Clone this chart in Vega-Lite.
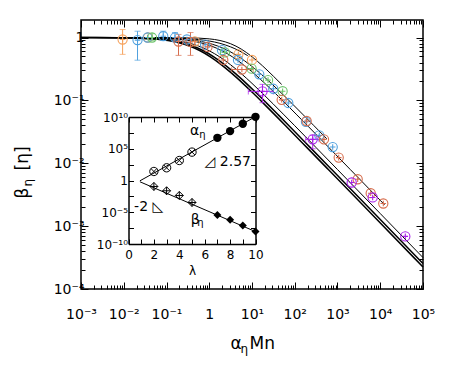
{
  "$schema": "https://vega.github.io/schema/vega-lite/v6.json",
  "width": 342,
  "height": 269,
  "autosize": {"type": "none"},
  "padding": {"left": 81, "top": 20, "right": 27, "bottom": 86},
  "background": "white",
  "config": {
    "font": "DejaVu Sans",
    "view": {"stroke": "black", "strokeWidth": 1.5},
    "axis": {"domain": false, "grid": false, "tickColor": "black", "labelColor": "black", "titleColor": "black", "titleFontWeight": "normal", "labelFlush": false, "labelOverlap": false}
  },
  "datasets": {
    "curves": [
      {"c": "T1", "x": 0.001, "y": 0.9995}, {"c": "T1", "x": 0.00611, "y": 0.993}, {"c": "T1", "x": 0.01932, "y": 0.978}, {"c": "T1", "x": 0.0611, "y": 0.9355}, {"c": "T1", "x": 0.1086, "y": 0.8925}, {"c": "T1", "x": 0.1932, "y": 0.8249}, {"c": "T1", "x": 0.3436, "y": 0.7316}, {"c": "T1", "x": 0.611, "y": 0.6156}, {"c": "T1", "x": 1.086, "y": 0.4891}, {"c": "T1", "x": 1.932, "y": 0.3684}, {"c": "T1", "x": 3.436, "y": 0.2662}, {"c": "T1", "x": 6.11, "y": 0.1866}, {"c": "T1", "x": 10.86, "y": 0.1284}, {"c": "T1", "x": 19.32, "y": 0.0872}, {"c": "T1", "x": 34.36, "y": 0.0588}, {"c": "T1", "x": 61.1, "y": 0.03954}, {"c": "T1", "x": 193.2, "y": 0.01774}, {"c": "T1", "x": 611, "y": 0.00794}, {"c": "T1", "x": 6110, "y": 0.001585}, {"c": "T1", "x": 100000, "y": 0.000224},
      {"c": "T2", "x": 0.001, "y": 0.9995}, {"c": "T2", "x": 0.00733, "y": 0.993}, {"c": "T2", "x": 0.02318, "y": 0.978}, {"c": "T2", "x": 0.0733, "y": 0.9355}, {"c": "T2", "x": 0.1303, "y": 0.8925}, {"c": "T2", "x": 0.2318, "y": 0.8249}, {"c": "T2", "x": 0.4123, "y": 0.7316}, {"c": "T2", "x": 0.733, "y": 0.6156}, {"c": "T2", "x": 1.303, "y": 0.4891}, {"c": "T2", "x": 2.318, "y": 0.3684}, {"c": "T2", "x": 4.123, "y": 0.2662}, {"c": "T2", "x": 7.33, "y": 0.1866}, {"c": "T2", "x": 13.03, "y": 0.1284}, {"c": "T2", "x": 23.18, "y": 0.0872}, {"c": "T2", "x": 41.23, "y": 0.0588}, {"c": "T2", "x": 73.3, "y": 0.03954}, {"c": "T2", "x": 231.8, "y": 0.01774}, {"c": "T2", "x": 733, "y": 0.00794}, {"c": "T2", "x": 7330, "y": 0.001585}, {"c": "T2", "x": 100000, "y": 0.000254},
      {"c": "P", "x": 0.001, "y": 0.9997}, {"c": "P", "x": 0.01, "y": 0.993}, {"c": "P", "x": 0.03162, "y": 0.978}, {"c": "P", "x": 0.1, "y": 0.9355}, {"c": "P", "x": 0.1778, "y": 0.8925}, {"c": "P", "x": 0.3162, "y": 0.8249}, {"c": "P", "x": 0.5623, "y": 0.7316}, {"c": "P", "x": 1, "y": 0.6156}, {"c": "P", "x": 1.778, "y": 0.4891}, {"c": "P", "x": 3.162, "y": 0.3684}, {"c": "P", "x": 5.623, "y": 0.2662}, {"c": "P", "x": 10, "y": 0.1866}, {"c": "P", "x": 17.78, "y": 0.1284}, {"c": "P", "x": 31.62, "y": 0.0872}, {"c": "P", "x": 56.23, "y": 0.0588}, {"c": "P", "x": 100, "y": 0.03954}, {"c": "P", "x": 316.2, "y": 0.01774}, {"c": "P", "x": 1000, "y": 0.00794}, {"c": "P", "x": 10000, "y": 0.001585}, {"c": "P", "x": 100000, "y": 0.000316},
      {"c": "R", "x": 0.001, "y": 0.9998}, {"c": "R", "x": 0.01995, "y": 0.993}, {"c": "R", "x": 0.0631, "y": 0.978}, {"c": "R", "x": 0.1995, "y": 0.9355}, {"c": "R", "x": 0.3548, "y": 0.8925}, {"c": "R", "x": 0.631, "y": 0.8249}, {"c": "R", "x": 1.122, "y": 0.7316}, {"c": "R", "x": 1.995, "y": 0.6156}, {"c": "R", "x": 3.548, "y": 0.4891}, {"c": "R", "x": 6.31, "y": 0.3684}, {"c": "R", "x": 11.22, "y": 0.2662}, {"c": "R", "x": 19.95, "y": 0.1866}, {"c": "R", "x": 35.48, "y": 0.1284}, {"c": "R", "x": 63.1, "y": 0.0872}, {"c": "R", "x": 112.2, "y": 0.0588}, {"c": "R", "x": 199.5, "y": 0.03954}, {"c": "R", "x": 631, "y": 0.01774}, {"c": "R", "x": 1995, "y": 0.00794}, {"c": "R", "x": 12590, "y": 0.00219},
      {"c": "B", "x": 0.001, "y": 0.9999}, {"c": "B", "x": 0.02818, "y": 0.993}, {"c": "B", "x": 0.0891, "y": 0.978}, {"c": "B", "x": 0.2818, "y": 0.9355}, {"c": "B", "x": 0.5012, "y": 0.8925}, {"c": "B", "x": 0.891, "y": 0.8249}, {"c": "B", "x": 1.585, "y": 0.7316}, {"c": "B", "x": 2.818, "y": 0.6156}, {"c": "B", "x": 5.012, "y": 0.4891}, {"c": "B", "x": 8.91, "y": 0.3684}, {"c": "B", "x": 15.85, "y": 0.2662}, {"c": "B", "x": 28.18, "y": 0.1866}, {"c": "B", "x": 50.12, "y": 0.1284}, {"c": "B", "x": 89.1, "y": 0.0872}, {"c": "B", "x": 158.5, "y": 0.0588}, {"c": "B", "x": 281.8, "y": 0.03954}, {"c": "B", "x": 562, "y": 0.0245},
      {"c": "G", "x": 0.001, "y": 1}, {"c": "G", "x": 0.1, "y": 0.998}, {"c": "G", "x": 0.3162, "y": 0.991}, {"c": "G", "x": 1, "y": 0.952}, {"c": "G", "x": 1.778, "y": 0.897}, {"c": "G", "x": 3.162, "y": 0.797}, {"c": "G", "x": 5.623, "y": 0.654}, {"c": "G", "x": 10, "y": 0.495}, {"c": "G", "x": 17.78, "y": 0.3526}, {"c": "G", "x": 31.62, "y": 0.2427}, {"c": "G", "x": 49.4, "y": 0.1795},
      {"c": "O", "x": 0.001, "y": 1}, {"c": "O", "x": 0.1, "y": 0.986}, {"c": "O", "x": 0.3162, "y": 0.958}, {"c": "O", "x": 1, "y": 0.88}, {"c": "O", "x": 1.778, "y": 0.809}, {"c": "O", "x": 3.162, "y": 0.71}, {"c": "O", "x": 5.012, "y": 0.6156}, {"c": "O", "x": 7.943, "y": 0.5145}
    ],
    "pts": [
      {"s": "o", "x": 0.0094, "y": 0.93, "ylo": 0.54, "yhi": 1.34},
      {"s": "o", "x": 0.037, "y": 1.0},
      {"s": "o", "x": 0.46, "y": 0.87},
      {"s": "o", "x": 4.8, "y": 0.54},
      {"s": "o", "x": 10, "y": 0.44},
      {"s": "b", "x": 0.021, "y": 0.91, "ylo": 0.436, "yhi": 1.26},
      {"s": "b", "x": 0.036, "y": 1.0},
      {"s": "b", "x": 0.084, "y": 1.05, "ylo": 0.9, "yhi": 1.26},
      {"s": "b", "x": 0.158, "y": 1.0, "ylo": 0.9, "yhi": 1.2},
      {"s": "b", "x": 0.3, "y": 0.93},
      {"s": "b", "x": 0.8, "y": 0.77},
      {"s": "b", "x": 1.99, "y": 0.63},
      {"s": "b", "x": 4.7, "y": 0.44},
      {"s": "b", "x": 14.8, "y": 0.26},
      {"s": "b", "x": 31.5, "y": 0.153},
      {"s": "b", "x": 70.6, "y": 0.091},
      {"s": "b", "x": 183, "y": 0.0457},
      {"s": "b", "x": 375, "y": 0.0278},
      {"s": "b", "x": 772, "y": 0.0181},
      {"s": "g", "x": 0.046, "y": 1.0, "ylo": 0.9, "yhi": 1.15},
      {"s": "g", "x": 2.33, "y": 0.58},
      {"s": "g", "x": 9.8, "y": 0.32},
      {"s": "g", "x": 23.7, "y": 0.21},
      {"s": "g", "x": 52, "y": 0.14},
      {"s": "r", "x": 0.191, "y": 0.865, "ylo": 0.52, "yhi": 1.12},
      {"s": "r", "x": 0.364, "y": 0.85, "ylo": 0.52, "yhi": 1.2},
      {"s": "r", "x": 0.91, "y": 0.71},
      {"s": "r", "x": 2.13, "y": 0.44},
      {"s": "r", "x": 5.8, "y": 0.31, "xlo": 3.35, "xhi": 10.7},
      {"s": "r", "x": 49.5, "y": 0.102},
      {"s": "r", "x": 190, "y": 0.047},
      {"s": "r", "x": 483, "y": 0.024},
      {"s": "r", "x": 1067, "y": 0.0123},
      {"s": "r", "x": 2965, "y": 0.00557},
      {"s": "r", "x": 5980, "y": 0.00334},
      {"s": "r", "x": 11780, "y": 0.00229},
      {"s": "p", "x": 17.6, "y": 0.139, "xlo": 8.2, "xhi": 31.5, "ylo": 0.092, "yhi": 0.18},
      {"s": "p", "x": 263, "y": 0.024, "xlo": 180, "xhi": 370, "ylo": 0.017, "yhi": 0.028},
      {"s": "p", "x": 2148, "y": 0.00494},
      {"s": "p", "x": 6650, "y": 0.00286},
      {"s": "p", "x": 38550, "y": 0.000687}
    ],
    "scaling": [
      {"s": "a", "lam": 2, "v": 26.3}, {"s": "a", "lam": 3, "v": 100}, {"s": "a", "lam": 4, "v": 1413}, {"s": "a", "lam": 5, "v": 29510},
      {"s": "a", "lam": 7, "v": 5250000}, {"s": "a", "lam": 8, "v": 60300000}, {"s": "a", "lam": 9, "v": 851000000}, {"s": "a", "lam": 10, "v": 10700000000},
      {"s": "b", "lam": 2, "v": 0.115}, {"s": "b", "lam": 3, "v": 0.024}, {"s": "b", "lam": 4, "v": 0.00437}, {"s": "b", "lam": 5, "v": 0.000347},
      {"s": "b", "lam": 7, "v": 0.00000355}, {"s": "b", "lam": 8, "v": 0.000000646}, {"s": "b", "lam": 9, "v": 0.0000000813}, {"s": "b", "lam": 10, "v": 0.00000000933}
    ],
    "fits": [
      {"s": "a", "lam": 0.9, "v": 0.891}, {"s": "a", "lam": 10, "v": 11200000000},
      {"s": "b", "lam": 0.9, "v": 0.631}, {"s": "b", "lam": 10, "v": 0.0000000089}
    ],
    "notes": [
      {"k": "big", "t": "α", "lam": 5.2, "v": 63000000},
      {"k": "sub", "t": "η", "lam": 5.83, "v": 14500000},
      {"k": "big", "t": "β", "lam": 5.25, "v": 0.0000006},
      {"k": "sub", "t": "η", "lam": 5.67, "v": 0.000000224},
      {"k": "note", "t": "◿ 2.57", "lam": 5.99, "v": 741},
      {"k": "note", "t": "-2 ◺", "lam": 0.44, "v": 0.000074}
    ]
  },
  "layer": [
    {
      "data": {"name": "curves"},
      "transform": [{"filter": "datum.c != 'T1' && datum.c != 'T2'"}],
      "mark": {"type": "line", "color": "black", "strokeWidth": 1, "interpolate": "monotone"},
      "encoding": {
        "x": {"field": "x", "type": "quantitative", "scale": {"type": "log", "domain": [0.001, 100000], "nice": false},
          "axis": {"orient": "bottom", "values": [0.001, 0.01, 0.1, 1, 10, 100, 1000, 10000, 100000], "tickSize": -7, "tickWidth": 1,
            "labelExpr": "['10⁻³','10⁻²','10⁻¹','1','10¹','10²','10³','10⁴','10⁵'][round(log(datum.value)/LN10)+3]",
            "labelFontSize": 14, "labelPadding": 25,
            "title": "α", "titleFontSize": 17, "titleX": 149, "titleY": 59, "titleAlign": "left", "titleBaseline": "alphabetic"}},
        "y": {"field": "y", "type": "quantitative", "scale": {"type": "log", "domain": [0.0001, 1.9], "nice": false},
          "axis": {"orient": "left", "values": [0.0001, 0.001, 0.01, 0.1, 1], "tickSize": -7, "tickWidth": 1,
            "labelExpr": "['10⁻⁴','10⁻³','10⁻²','10⁻¹','1'][round(log(datum.value)/LN10)+4]",
            "labelFontSize": 14, "labelPadding": 4,
            "title": "β", "titleFontSize": 17, "titleAngle": -90, "titleX": -54, "titleY": 178, "titleAlign": "left", "titleBaseline": "alphabetic"}},
        "detail": {"field": "c"}
      }
    },
    {
      "data": {"name": "curves"},
      "transform": [{"filter": "datum.c == 'T1' || datum.c == 'T2'"}],
      "mark": {"type": "line", "color": "black", "strokeWidth": 1.5, "interpolate": "monotone"},
      "encoding": {
        "x": {"field": "x", "type": "quantitative", "scale": {"type": "log", "domain": [0.001, 100000], "nice": false},
          "axis": {"orient": "bottom", "values": [0.002,0.003,0.004,0.005,0.006,0.007,0.008,0.009,0.02,0.03,0.04,0.05,0.06,0.07,0.08,0.09,0.2,0.3,0.4,0.5,0.6,0.7,0.8,0.9,2,3,4,5,6,7,8,9,20,30,40,50,60,70,80,90,200,300,400,500,600,700,800,900,2000,3000,4000,5000,6000,7000,8000,9000,20000,30000,40000,50000,60000,70000,80000,90000],
            "tickSize": -4, "tickWidth": 1, "labels": false,
            "title": "Mn", "titleFontSize": 17, "titleX": 168, "titleY": 59, "titleAlign": "left", "titleBaseline": "alphabetic"}},
        "y": {"field": "y", "type": "quantitative", "scale": {"type": "log", "domain": [0.0001, 1.9], "nice": false},
          "axis": {"orient": "left", "values": [0.0002,0.0003,0.0004,0.0005,0.0006,0.0007,0.0008,0.0009,0.002,0.003,0.004,0.005,0.006,0.007,0.008,0.009,0.02,0.03,0.04,0.05,0.06,0.07,0.08,0.09,0.2,0.3,0.4,0.5,0.6,0.7,0.8,0.9],
            "tickSize": -4, "tickWidth": 1, "labels": false,
            "title": "η", "titleFontSize": 12, "titleAngle": -90, "titleX": -50, "titleY": 166, "titleAlign": "left", "titleBaseline": "alphabetic"}},
        "detail": {"field": "c"}
      }
    },
    {
      "data": {"name": "pts"},
      "transform": [{"filter": "isValid(datum.ylo)"}],
      "mark": {"type": "errorbar", "ticks": {"size": 6}, "thickness": 1},
      "encoding": {
        "x": {"field": "x", "type": "quantitative", "scale": {"type": "log", "domain": [0.001, 100000], "nice": false}, "axis": null},
        "y": {"field": "ylo", "type": "quantitative", "scale": {"type": "log", "domain": [0.0001, 1.9], "nice": false}, "axis": null},
        "y2": {"field": "yhi"},
        "color": {"field": "s", "type": "nominal", "scale": {"domain": ["o", "b", "g", "r", "p"], "range": ["#F5A05A", "#4FA0DE", "#6CC46C", "#D76E4E", "#A820E8"]}, "legend": null}
      }
    },
    {
      "data": {"name": "pts"},
      "transform": [{"filter": "isValid(datum.xlo)"}],
      "mark": {"type": "errorbar", "ticks": {"size": 6}, "thickness": 1},
      "encoding": {
        "x": {"field": "xlo", "type": "quantitative", "scale": {"type": "log", "domain": [0.001, 100000], "nice": false}, "axis": null},
        "x2": {"field": "xhi"},
        "y": {"field": "y", "type": "quantitative", "scale": {"type": "log", "domain": [0.0001, 1.9], "nice": false}, "axis": null},
        "color": {"field": "s", "type": "nominal", "scale": {"domain": ["o", "b", "g", "r", "p"], "range": ["#F5A05A", "#4FA0DE", "#6CC46C", "#D76E4E", "#A820E8"]}, "legend": null}
      }
    },
    {
      "data": {"name": "pts"},
      "mark": {"type": "point", "shape": "M-1,0A1,1,0,1,0,1,0A1,1,0,1,0,-1,0ZM-0.6,0L0.6,0M0,-0.6L0,0.6", "filled": false, "size": 85, "strokeWidth": 1.1, "opacity": 1},
      "encoding": {
        "x": {"field": "x", "type": "quantitative", "scale": {"type": "log", "domain": [0.001, 100000], "nice": false}, "axis": null},
        "y": {"field": "y", "type": "quantitative", "scale": {"type": "log", "domain": [0.0001, 1.9], "nice": false}, "axis": null},
        "color": {"field": "s", "type": "nominal", "scale": {"domain": ["o", "b", "g", "r", "p"], "range": ["#F5A05A", "#4FA0DE", "#6CC46C", "#D76E4E", "#A820E8"]}, "legend": null}
      }
    },
    {
      "data": {"name": "curves"},
      "mark": {"type": "point", "opacity": 0},
      "encoding": {
        "x": {"field": "x", "type": "quantitative", "scale": {"type": "log", "domain": [0.001, 100000], "nice": false},
          "axis": {"orient": "top", "values": [0.001, 0.01, 0.1, 1, 10, 100, 1000, 10000, 100000], "tickSize": -7, "tickWidth": 1, "labels": false,
            "title": "η", "titleFontSize": 12, "titleX": 159, "titleY": 332, "titleAlign": "left", "titleBaseline": "alphabetic"}},
        "y": {"field": "y", "type": "quantitative", "scale": {"type": "log", "domain": [0.0001, 1.9], "nice": false},
          "axis": {"orient": "right", "values": [0.0001, 0.001, 0.01, 0.1, 1], "tickSize": -7, "tickWidth": 1, "labels": false,
            "title": "[η]", "titleFontSize": 17, "titleAngle": -90, "titleX": -396, "titleY": 150, "titleAlign": "left", "titleBaseline": "alphabetic"}}
      }
    },
    {
      "data": {"name": "curves"},
      "mark": {"type": "point", "opacity": 0},
      "encoding": {
        "x": {"field": "x", "type": "quantitative", "scale": {"type": "log", "domain": [0.001, 100000], "nice": false},
          "axis": {"orient": "top", "values": [0.002,0.003,0.004,0.005,0.006,0.007,0.008,0.009,0.02,0.03,0.04,0.05,0.06,0.07,0.08,0.09,0.2,0.3,0.4,0.5,0.6,0.7,0.8,0.9,2,3,4,5,6,7,8,9,20,30,40,50,60,70,80,90,200,300,400,500,600,700,800,900,2000,3000,4000,5000,6000,7000,8000,9000,20000,30000,40000,50000,60000,70000,80000,90000],
            "tickSize": -4, "tickWidth": 1, "labels": false, "title": null}},
        "y": {"field": "y", "type": "quantitative", "scale": {"type": "log", "domain": [0.0001, 1.9], "nice": false},
          "axis": {"orient": "right", "values": [0.0002,0.0003,0.0004,0.0005,0.0006,0.0007,0.0008,0.0009,0.002,0.003,0.004,0.005,0.006,0.007,0.008,0.009,0.02,0.03,0.04,0.05,0.06,0.07,0.08,0.09,0.2,0.3,0.4,0.5,0.6,0.7,0.8,0.9],
            "tickSize": -4, "tickWidth": 1, "labels": false, "title": null}}
      }
    },
    {
      "data": {"name": "fits"},
      "mark": {"type": "line", "color": "black", "strokeWidth": 1},
      "encoding": {
        "x": {"field": "lam", "type": "quantitative", "scale": {"type": "linear", "domain": [0, 10], "range": [47.5, 174.5], "nice": false, "zero": false},
          "axis": {"orient": "bottom", "offset": -45, "domain": true, "domainColor": "black", "domainWidth": 1.5, "values": [0,1,2,3,4,5,6,7,8,9,10], "tickSize": -5, "tickWidth": 1,
            "labelExpr": "datum.value % 2 == 0 ? datum.label : ''", "labelFontSize": 12, "labelPadding": 10,
            "title": "λ", "titleFontSize": 12, "titlePadding": 5}},
        "y": {"field": "v", "type": "quantitative", "scale": {"type": "log", "domain": [1e-10, 1e10], "range": [224, 97], "nice": false},
          "axis": {"orient": "left", "offset": -47.5, "domain": true, "domainColor": "black", "domainWidth": 1.5,
            "values": [1e-10, 3.1623e-8, 1e-5, 0.0031623, 1, 316.23, 100000, 31622777, 1e10], "tickSize": -5, "tickWidth": 1,
            "labelExpr": "abs(log(datum.value)/LN10 - round(log(datum.value)/LN10)) > 0.01 ? '' : ['10⁻¹⁰','','','','','10⁻⁵','','','','','1','','','','','10⁵','','','','','10¹⁰'][round(log(datum.value)/LN10)+10]",
            "labelFontSize": 12, "labelPadding": 6, "title": null}},
        "detail": {"field": "s"}
      }
    },
    {
      "data": {"name": "scaling"},
      "transform": [{"filter": "datum.s == 'a' && datum.lam < 6"}],
      "mark": {"type": "point", "shape": "M-1,0A1,1,0,1,0,1,0A1,1,0,1,0,-1,0ZM-0.7,-0.7L0.7,0.7M-0.7,0.7L0.7,-0.7", "filled": false, "size": 70, "color": "black", "strokeWidth": 1, "opacity": 1},
      "encoding": {
        "x": {"field": "lam", "type": "quantitative", "scale": {"type": "linear", "domain": [0, 10], "range": [47.5, 174.5], "nice": false, "zero": false}, "axis": null},
        "y": {"field": "v", "type": "quantitative", "scale": {"type": "log", "domain": [1e-10, 1e10], "range": [224, 97], "nice": false}, "axis": null}
      }
    },
    {
      "data": {"name": "scaling"},
      "transform": [{"filter": "datum.s == 'a' && datum.lam > 6"}],
      "mark": {"type": "point", "shape": "circle", "filled": true, "size": 70, "color": "black", "opacity": 1},
      "encoding": {
        "x": {"field": "lam", "type": "quantitative", "scale": {"type": "linear", "domain": [0, 10], "range": [47.5, 174.5], "nice": false, "zero": false}, "axis": null},
        "y": {"field": "v", "type": "quantitative", "scale": {"type": "log", "domain": [1e-10, 1e10], "range": [224, 97], "nice": false}, "axis": null}
      }
    },
    {
      "data": {"name": "scaling"},
      "transform": [{"filter": "datum.s == 'b' && datum.lam < 6"}],
      "mark": {"type": "point", "shape": "M0,-1L1,0L0,1L-1,0ZM-1,0L1,0M0,-1L0,1", "filled": false, "size": 64, "color": "black", "strokeWidth": 1, "opacity": 1},
      "encoding": {
        "x": {"field": "lam", "type": "quantitative", "scale": {"type": "linear", "domain": [0, 10], "range": [47.5, 174.5], "nice": false, "zero": false}, "axis": null},
        "y": {"field": "v", "type": "quantitative", "scale": {"type": "log", "domain": [1e-10, 1e10], "range": [224, 97], "nice": false}, "axis": null}
      }
    },
    {
      "data": {"name": "scaling"},
      "transform": [{"filter": "datum.s == 'b' && datum.lam > 6"}],
      "mark": {"type": "point", "shape": "diamond", "filled": true, "size": 64, "color": "black", "opacity": 1},
      "encoding": {
        "x": {"field": "lam", "type": "quantitative", "scale": {"type": "linear", "domain": [0, 10], "range": [47.5, 174.5], "nice": false, "zero": false}, "axis": null},
        "y": {"field": "v", "type": "quantitative", "scale": {"type": "log", "domain": [1e-10, 1e10], "range": [224, 97], "nice": false}, "axis": null}
      }
    },
    {
      "data": {"name": "fits"},
      "mark": {"type": "point", "opacity": 0},
      "encoding": {
        "x": {"field": "lam", "type": "quantitative", "scale": {"type": "linear", "domain": [0, 10], "range": [47.5, 174.5], "nice": false, "zero": false},
          "axis": {"orient": "top", "offset": -97, "domain": true, "domainColor": "black", "domainWidth": 1.5, "values": [0,1,2,3,4,5,6,7,8,9,10], "tickSize": -5, "tickWidth": 1, "labels": false, "title": null}},
        "y": {"field": "v", "type": "quantitative", "scale": {"type": "log", "domain": [1e-10, 1e10], "range": [224, 97], "nice": false},
          "axis": {"orient": "right", "offset": -167.5, "domain": true, "domainColor": "black", "domainWidth": 1.5,
            "values": [1e-10, 3.1623e-8, 1e-5, 0.0031623, 1, 316.23, 100000, 31622777, 1e10], "tickSize": -5, "tickWidth": 1, "labels": false, "title": null}}
      }
    },
    {
      "data": {"name": "notes"},
      "transform": [{"filter": "datum.k == 'big'"}],
      "mark": {"type": "text", "fontSize": 14, "align": "center", "baseline": "middle", "color": "black"},
      "encoding": {
        "x": {"field": "lam", "type": "quantitative", "scale": {"type": "linear", "domain": [0, 10], "range": [47.5, 174.5], "nice": false, "zero": false}, "axis": null},
        "y": {"field": "v", "type": "quantitative", "scale": {"type": "log", "domain": [1e-10, 1e10], "range": [224, 97], "nice": false}, "axis": null},
        "text": {"field": "t"}
      }
    },
    {
      "data": {"name": "notes"},
      "transform": [{"filter": "datum.k == 'sub'"}],
      "mark": {"type": "text", "fontSize": 10, "align": "center", "baseline": "middle", "color": "black"},
      "encoding": {
        "x": {"field": "lam", "type": "quantitative", "scale": {"type": "linear", "domain": [0, 10], "range": [47.5, 174.5], "nice": false, "zero": false}, "axis": null},
        "y": {"field": "v", "type": "quantitative", "scale": {"type": "log", "domain": [1e-10, 1e10], "range": [224, 97], "nice": false}, "axis": null},
        "text": {"field": "t"}
      }
    },
    {
      "data": {"name": "notes"},
      "transform": [{"filter": "datum.k == 'note'"}],
      "mark": {"type": "text", "fontSize": 14, "align": "left", "baseline": "middle", "color": "black"},
      "encoding": {
        "x": {"field": "lam", "type": "quantitative", "scale": {"type": "linear", "domain": [0, 10], "range": [47.5, 174.5], "nice": false, "zero": false}, "axis": null},
        "y": {"field": "v", "type": "quantitative", "scale": {"type": "log", "domain": [1e-10, 1e10], "range": [224, 97], "nice": false}, "axis": null},
        "text": {"field": "t"}
      }
    }
  ],
  "resolve": {"scale": {"x": "independent", "y": "independent", "color": "shared"}, "axis": {"x": "independent", "y": "independent"}}
}
